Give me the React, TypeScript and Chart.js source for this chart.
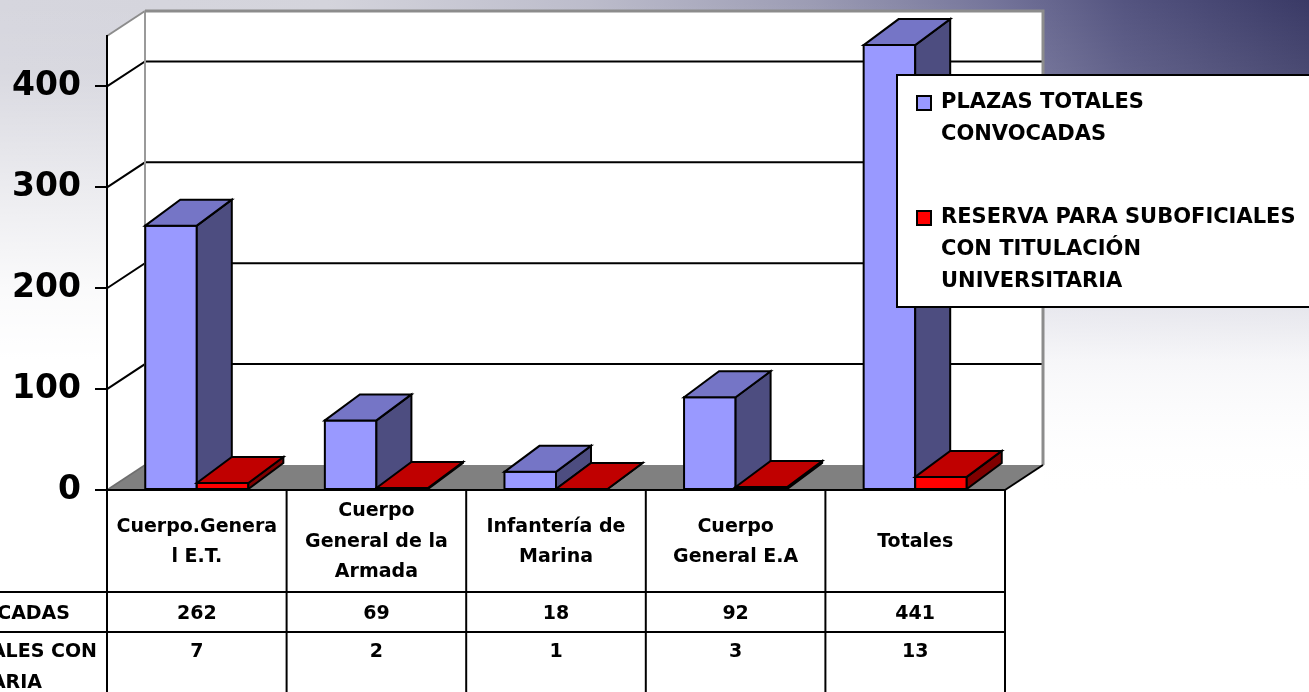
import React, { useEffect, useRef } from "react";
import { Chart, registerables } from "chart.js";

Chart.register(...registerables);

// ---------- data ----------
const categories: string[][] = [
  ["Cuerpo.Genera", "l E.T."],
  ["Cuerpo", "General de la", "Armada"],
  ["Infantería de", "Marina"],
  ["Cuerpo", "General E.A"],
  ["Totales"],
];
const plazasTotales = [262, 69, 18, 92, 441];
const reservaSuboficiales = [7, 2, 1, 3, 13];
const seriesNames = [
  "PLAZAS TOTALES CONVOCADAS",
  "RESERVA PARA SUBOFICIALES CON TITULACIÓN UNIVERSITARIA",
];
const legendLines = [
  ["PLAZAS TOTALES", "CONVOCADAS"],
  ["RESERVA PARA SUBOFICIALES", "CON TITULACIÓN", "UNIVERSITARIA"],
];
const rowLabelLines = [
  ["PLAZAS TOTALES CONVOCADAS"],
  ["RESERVA PARA SUBOFICIALES CON", "TITULACIÓN UNIVERSITARIA"],
];
const yTicks = [0, 100, 200, 300, 400];
const yMax = 450;

// ---------- style ----------
const CW = 1309;
const CH = 692;
const FONT = "'DejaVu Sans', sans-serif";
const FRONT = ["#9999FF", "#FF0000"];
const TOP = ["#7575C6", "#C00000"];
const SIDE = ["#4D4D80", "#800000"];
const WALL_D = { dx: 38, dy: -25 };
const BAR_D = { dx: 35, dy: -26 };

function poly(ctx: CanvasRenderingContext2D, pts: number[][], fill?: string, stroke?: string, lw = 2) {
  ctx.beginPath();
  ctx.moveTo(pts[0][0], pts[0][1]);
  for (let i = 1; i < pts.length; i++) ctx.lineTo(pts[i][0], pts[i][1]);
  ctx.closePath();
  if (fill) {
    ctx.fillStyle = fill;
    ctx.fill();
  }
  if (stroke) {
    ctx.strokeStyle = stroke;
    ctx.lineWidth = lw;
    ctx.lineJoin = "miter";
    ctx.stroke();
  }
}

function line(ctx: CanvasRenderingContext2D, x1: number, y1: number, x2: number, y2: number, color: string, lw: number) {
  ctx.beginPath();
  ctx.moveTo(x1, y1);
  ctx.lineTo(x2, y2);
  ctx.strokeStyle = color;
  ctx.lineWidth = lw;
  ctx.stroke();
}

const backdrop = {
  id: "backdrop",
  beforeDraw(chart: any) {
    const ctx: CanvasRenderingContext2D = chart.ctx;
    const { left, right, top, bottom } = chart.chartArea;
    const ys = chart.scales.y;
    const { dx, dy } = WALL_D;
    ctx.save();
    // slide background
    ctx.fillStyle = "#ffffff";
    ctx.fillRect(0, 0, CW, CH);
    const hg = ctx.createLinearGradient(0, 0, CW, 0);
    hg.addColorStop(0, "#d6d6de");
    hg.addColorStop(0.25, "#d4d4dc");
    hg.addColorStop(0.45, "#bcbccb");
    hg.addColorStop(0.62, "#9c9cb4");
    hg.addColorStop(0.76, "#74749a");
    hg.addColorStop(0.86, "#545480");
    hg.addColorStop(1, "#3a3a66");
    ctx.fillStyle = hg;
    ctx.fillRect(0, 0, CW, 360);
    const vg = ctx.createLinearGradient(0, 0, 0, 360);
    vg.addColorStop(0, "rgba(255,255,255,0)");
    vg.addColorStop(0.2, "rgba(255,255,255,0.08)");
    vg.addColorStop(0.5, "rgba(255,255,255,0.5)");
    vg.addColorStop(0.8, "rgba(255,255,255,0.88)");
    vg.addColorStop(1, "rgba(255,255,255,1)");
    ctx.fillStyle = vg;
    ctx.fillRect(0, 0, CW, 360);
    // light lower-right haze
    const rg = ctx.createLinearGradient(1043, 300, 1043, 500);
    rg.addColorStop(0, "rgba(225,225,233,0.6)");
    rg.addColorStop(1, "rgba(255,255,255,0)");
    ctx.fillStyle = rg;
    ctx.fillRect(1043, 300, CW - 1043, 200);

    // side wall
    poly(ctx, [[left, top], [left + dx, top + dy], [left + dx, bottom + dy], [left, bottom]], "#ffffff");
    // back wall
    poly(ctx, [[left + dx, top + dy], [right + dx, top + dy], [right + dx, bottom + dy], [left + dx, bottom + dy]], "#ffffff");
    // floor
    poly(ctx, [[left, bottom], [right, bottom], [right + dx, bottom + dy], [left + dx, bottom + dy]], "#808080");
    // gridlines
    for (const v of yTicks) {
      if (v === 0) continue;
      const yf = ys.getPixelForValue(v);
      ctx.beginPath();
      ctx.moveTo(left, yf);
      ctx.lineTo(left + dx, yf + dy);
      ctx.lineTo(right + dx, yf + dy);
      ctx.strokeStyle = "#000";
      ctx.lineWidth = 2;
      ctx.stroke();
    }
    // wall outlines
    line(ctx, left, top, left + dx, top + dy, "#8c8c8c", 2);
    line(ctx, left + dx, top + dy, left + dx, bottom + dy, "#9a9a9a", 2);
    ctx.beginPath();
    ctx.moveTo(left + dx, top + dy);
    ctx.lineTo(right + dx, top + dy);
    ctx.lineTo(right + dx, bottom + dy);
    ctx.strokeStyle = "#8c8c8c";
    ctx.lineWidth = 3;
    ctx.stroke();
    line(ctx, left, bottom, left + dx, bottom + dy, "#6e6e6e", 1.5);
    line(ctx, right, bottom, right + dx, bottom + dy, "#000", 2);
    ctx.restore();
  },
};

const bars3d = {
  id: "bars3d",
  beforeDatasetsDraw(chart: any) {
    const ctx: CanvasRenderingContext2D = chart.ctx;
    const { dx, dy } = BAR_D;
    const metas = chart.data.datasets.map((_: any, i: number) => chart.getDatasetMeta(i));
    const n = chart.data.labels.length;
    ctx.save();
    for (let i = 0; i < n; i++) {
      metas.forEach((meta: any, d: number) => {
        const el = meta.data[i];
        if (!el) return;
        const p = el.getProps(["x", "y", "base", "width"], true);
        const l = p.x - p.width / 2;
        const r = p.x + p.width / 2;
        const t = Math.min(p.y, p.base);
        const b = Math.max(p.y, p.base);
        poly(ctx, [[l, t], [r, t], [r, b], [l, b]], FRONT[d], "#000", 2);
        poly(ctx, [[r, t], [r + dx, t + dy], [r + dx, b + dy], [r, b]], SIDE[d], "#000", 2);
        poly(ctx, [[l, t], [l + dx, t + dy], [r + dx, t + dy], [r, t]], TOP[d], "#000", 2);
      });
    }
    ctx.restore();
    return false;
  },
};

const tableLegend = {
  id: "tableLegend",
  afterDraw(chart: any) {
    const ctx: CanvasRenderingContext2D = chart.ctx;
    const { left, right, bottom } = chart.chartArea;
    const xs = chart.scales.x;
    const n = chart.data.labels.length;
    const catW = (right - left) / n;
    const y0 = bottom;
    const y1 = y0 + 102;
    const y2 = y1 + 40;
    ctx.save();
    // table grid
    line(ctx, left, y0, right, y0, "#000", 2);
    line(ctx, 0, y1, right, y1, "#000", 2);
    line(ctx, 0, y2, right, y2, "#000", 2);
    for (let k = 0; k <= n; k++) {
      const xk = k < n ? xs.getPixelForValue(k) - catW / 2 : xs.getPixelForValue(n - 1) + catW / 2;
      line(ctx, xk, y0, xk, CH, "#000", 2);
    }
    ctx.fillStyle = "#000";
    ctx.font = `bold 19px ${FONT}`;
    ctx.textAlign = "center";
    ctx.textBaseline = "middle";
    const series = [plazasTotales, reservaSuboficiales];
    for (let i = 0; i < n; i++) {
      const cx = xs.getPixelForValue(i);
      const lines: string[] = chart.data.labels[i];
      lines.forEach((s, j) => {
        ctx.fillText(s, cx, y0 + 52 + (j - (lines.length - 1) / 2) * 30.5);
      });
      ctx.fillText(String(series[0][i]), cx, y1 + 22);
      ctx.fillText(String(series[1][i]), cx, y2 + 20);
    }
    // row labels (clipped at left edge)
    ctx.textAlign = "right";
    ctx.fillText(rowLabelLines[0][0], 70, y1 + 22);
    ctx.fillText(rowLabelLines[1][0], 97, y2 + 20);
    ctx.fillText(rowLabelLines[1][1], 42, y2 + 51);

    // legend
    poly(ctx, [[897, 75], [1320, 75], [1320, 307], [897, 307]], "#ffffff", "#000", 2);
    ctx.font = `bold 21px ${FONT}`;
    ctx.textAlign = "left";
    const entryY = [103, 218];
    legendLines.forEach((ls, d) => {
      poly(ctx, [[917, entryY[d] - 7], [931, entryY[d] - 7], [931, entryY[d] + 7], [917, entryY[d] + 7]], FRONT[d], "#000", 2);
      ctx.fillStyle = "#000";
      ls.forEach((s, j) => ctx.fillText(s, 941, entryY[d] + j * 32));
    });
    ctx.restore();
  },
};

export default function App() {
  const ref = useRef<HTMLCanvasElement | null>(null);
  useEffect(() => {
    if (!ref.current) return;
    const chart = new Chart(ref.current, {
      type: "bar",
      data: {
        labels: categories as any,
        datasets: [
          { label: seriesNames[0], data: plazasTotales, backgroundColor: FRONT[0], borderColor: "#000", borderWidth: 2 },
          { label: seriesNames[1], data: reservaSuboficiales, backgroundColor: FRONT[1], borderColor: "#000", borderWidth: 2 },
        ],
      },
      options: {
        responsive: false,
        animation: false,
        devicePixelRatio: 1,
        layout: { padding: { top: 36, bottom: CH - 490, left: 0, right: CW - 1005 } },
        datasets: { bar: { categoryPercentage: 0.574, barPercentage: 1 } },
        plugins: { legend: { display: false }, tooltip: { enabled: false } },
        scales: {
          x: { type: "category", display: false, offset: true },
          y: {
            min: 0,
            max: yMax,
            afterFit: (s: any) => {
              s.width = 107;
            },
            afterBuildTicks: (s: any) => {
              s.ticks = yTicks.map((v) => ({ value: v }));
            },
            ticks: {
              color: "#000",
              padding: 14,
              font: { family: FONT, size: 33, weight: "bold" },
            },
            grid: { drawOnChartArea: false, drawTicks: true, tickLength: 12, color: "#000", lineWidth: 2 },
            border: { display: true, color: "#000", width: 2 },
          },
        },
      },
      plugins: [backdrop, bars3d, tableLegend],
    } as any);
    return () => chart.destroy();
  }, []);
  return (
    <div style={{ position: "fixed", left: 0, top: 0, width: CW, height: CH }}>
      <canvas ref={ref} width={CW} height={CH} style={{ display: "block", width: CW, height: CH }} />
    </div>
  );
}
